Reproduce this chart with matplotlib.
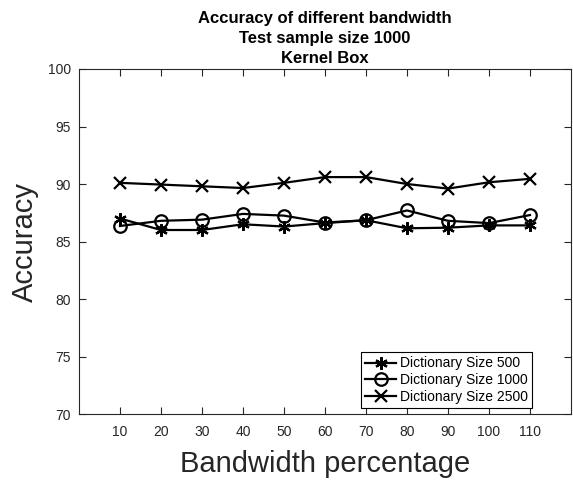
import matplotlib
matplotlib.use("Agg")
import matplotlib.pyplot as plt

plt.rcParams['font.family'] = ['Liberation Sans', 'DejaVu Sans']

# Data
bandwidth = [10, 20, 30, 40, 50, 60, 70, 80, 90, 100, 110]
acc_500 = [87.0, 86.0, 86.0, 86.5, 86.3, 86.6, 86.85, 86.15, 86.2, 86.4, 86.4]
acc_1000 = [86.35, 86.8, 86.9, 87.4, 87.25, 86.65, 86.85, 87.7, 86.8, 86.6, 87.3]
acc_2500 = [90.1, 89.95, 89.8, 89.65, 90.1, 90.6, 90.6, 90.0, 89.6, 90.15, 90.45]

fig = plt.figure(figsize=(5.73, 4.83), dpi=100)
ax = fig.add_axes([79 / 573, 69 / 483, 492 / 573, 345 / 483])

ax.plot(bandwidth, acc_500, color='black', linewidth=1.6, marker=(6, 2, 0),
        markersize=9, markeredgewidth=1.6, label='Dictionary Size 500')
ax.plot(bandwidth, acc_1000, color='black', linewidth=1.6, marker='o',
        markersize=9, markerfacecolor='none', markeredgewidth=1.6,
        label='Dictionary Size 1000')
ax.plot(bandwidth, acc_2500, color='black', linewidth=1.6, marker='x',
        markersize=8, markeredgewidth=1.6, label='Dictionary Size 2500')

ax.set_xlim(0, 120)
ax.set_ylim(70, 100)
ax.set_xticks(bandwidth)
ax.set_yticks([70, 75, 80, 85, 90, 95, 100])
ax.tick_params(direction='in', length=5, width=0.8, labelsize=10,
               top=True, right=True, colors='#262626')
ax.tick_params(axis='x', pad=8)
ax.tick_params(axis='y', pad=6)
for sp in ax.spines.values():
    sp.set_color('#262626')
    sp.set_linewidth(0.8)

ax.set_title('Accuracy of different bandwidth\nTest sample size 1000\nKernel Box',
             fontweight='bold', fontsize=12, linespacing=1.45, pad=4)
ax.set_xlabel('Bandwidth percentage', fontsize=21, color='#262626', labelpad=8)
ax.set_ylabel('Accuracy', fontsize=21, color='#262626', labelpad=6)

leg = ax.legend(loc='lower right', bbox_to_anchor=(0.921, 0.017), fontsize=10,
                fancybox=False, framealpha=1, edgecolor='black',
                handlelength=2.2, handletextpad=0.3, borderpad=0.3,
                labelspacing=0.2, borderaxespad=0)
leg.get_frame().set_linewidth(0.8)

fig.savefig('out.png', dpi=100)
